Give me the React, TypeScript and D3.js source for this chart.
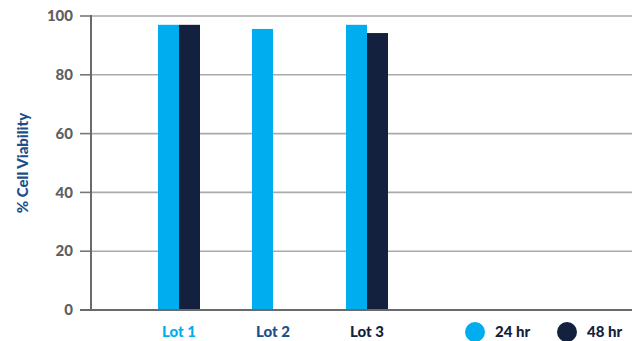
import React from "react";
import * as d3 from "d3";

const lots = ["Lot 1", "Lot 2", "Lot 3"];
const lotColors = ["#00aeef", "#1b4f8a", "#13213f"];
const seriesNames = ["24 hr", "48 hr"];
const seriesColors = ["#00aeef", "#13213f"];
const viability24 = [97, 95.6, 97];
const viability48: (number | null)[] = [97, null, 94.2];
const yTicks = [0, 20, 40, 60, 80, 100];

const W = 632;
const H = 341;
const left = 91;
const right = 632;
const top = 16;
const bottom = 310;
const font = "Lato, 'Open Sans', sans-serif";
const weight = 900;

export default function App() {
  const y = d3.scaleLinear().domain([0, 100]).range([bottom, top]);
  const xCenter = d3.scalePoint<string>().domain(lots).range([179, 367]);
  const groupWidth = 42;
  const xSub = d3
    .scaleBand<string>()
    .domain(seriesNames)
    .range([-groupWidth / 2, groupWidth / 2])
    .padding(0);
  const values = [viability24, viability48];

  return (
    <svg
      width={W}
      height={H}
      style={{ position: "absolute", left: 0, top: 0, display: "block" }}
    >
      {/* gridlines and tick marks */}
      {yTicks.map((t) => (
        <g key={t}>
          {t > 0 && (
            <line x1={left} x2={right} y1={y(t)} y2={y(t)} stroke="#aaaaaa" strokeWidth={1.6} />
          )}
          <line x1={80} x2={left} y1={y(t)} y2={y(t)} stroke="#777777" strokeWidth={1.6} />
          <text
            x={73}
            y={y(t)}
            dy="0.35em"
            textAnchor="end"
            fontFamily={font}
            fontWeight={weight}
            fontSize={15}
            fill="#5f5f5f"
          >
            {t}
          </text>
        </g>
      ))}

      {/* bars */}
      {lots.map((lot, i) => (
        <g key={lot}>
          {seriesNames.map((s, j) => {
            const v = values[j][i];
            if (v == null) return null;
            const x0 = (xCenter(lot) as number) + (xSub(s) as number);
            return (
              <rect
                key={s}
                x={x0}
                y={y(v)}
                width={xSub.bandwidth()}
                height={y(0) - y(v)}
                fill={seriesColors[j]}
              />
            );
          })}
        </g>
      ))}

      {/* axes */}
      <line x1={left} x2={left} y1={top - 1} y2={bottom} stroke="#6a6a6a" strokeWidth={2} />
      <line x1={80} x2={right} y1={bottom} y2={bottom} stroke="#6a6a6a" strokeWidth={2} />

      {/* category labels */}
      {lots.map((lot, i) => (
        <text
          key={lot}
          x={xCenter(lot) as number}
          y={337}
          textAnchor="middle"
          fontFamily={font}
          fontWeight={weight}
          fontSize={15}
          fill={lotColors[i]}
        >
          {lot}
        </text>
      ))}

      {/* y axis title */}
      <text
        transform={`translate(28, ${(top + bottom) / 2}) rotate(-90)`}
        textAnchor="middle"
        fontFamily={font}
        fontWeight={weight}
        fontSize={15}
        fill="#1b4f8a"
      >
        % Cell Viability
      </text>

      {/* legend */}
      {seriesNames.map((s, j) => (
        <g key={s} transform={`translate(${475 + j * 92}, 332)`}>
          <circle r={10} fill={seriesColors[j]} />
          <text
            x={20}
            y={5}
            fontFamily={font}
            fontWeight={weight}
            fontSize={15}
            fill="#13213f"
          >
            {s}
          </text>
        </g>
      ))}
    </svg>
  );
}
